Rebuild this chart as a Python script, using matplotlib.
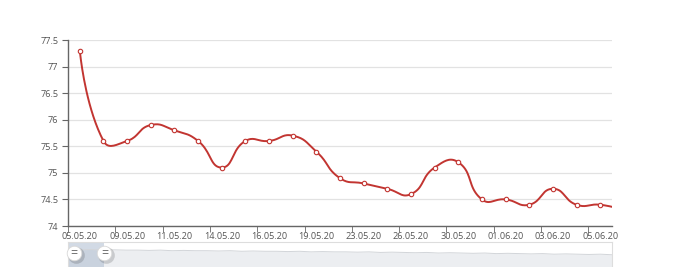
import numpy as np
import matplotlib.pyplot as plt

# category labels (only every other one is shown on the axis)
dates = ['05.05.20', '08.05.20', '09.05.20', '10.05.20', '11.05.20', '13.05.20',
         '14.05.20', '15.05.20', '16.05.20', '18.05.20', '19.05.20', '22.05.20',
         '23.05.20', '25.05.20', '26.05.20', '29.05.20', '30.05.20', '31.05.20',
         '01.06.20', '02.06.20', '03.06.20', '04.06.20', '05.06.20', '06.06.20']
values = [77.3, 75.6, 75.6, 75.9, 75.8, 75.6, 75.1, 75.6, 75.6, 75.7, 75.4, 74.9,
          74.8, 74.7, 74.6, 75.1, 75.2, 74.5, 74.5, 74.4, 74.7, 74.4, 74.4, 74.3]
y_ticks = [74, 74.5, 75, 75.5, 76, 76.5, 77, 77.5]
y_tick_labels = ['74', '74.5', '75', '75.5', '76', '76.5', '77', '77.5']

# overview series shown in the zoom slider
shadow_values = [0.74, 0.73, 0.74, 0.72, 0.73, 0.72, 0.72, 0.71, 0.72, 0.70, 0.71, 0.70,
                 0.70, 0.69, 0.70, 0.68, 0.69, 0.68, 0.68, 0.67, 0.68, 0.66, 0.67, 0.66,
                 0.66, 0.65, 0.66, 0.64, 0.65, 0.64, 0.63, 0.64, 0.62, 0.63, 0.62, 0.61,
                 0.62, 0.60, 0.61, 0.60, 0.59, 0.60, 0.58, 0.59, 0.58, 0.57, 0.58, 0.56]
window_start = 0.011
window_end = 0.067

LINE = '#c23531'
TEXT = '#555555'
FONT = 'Open Sans'

W, H = 680, 267
fig = plt.figure(figsize=(W / 100, H / 100), dpi=100)


def px_box(x0, y0, x1, y1):
    return [x0 / W, 1 - y1 / H, (x1 - x0) / W, (y1 - y0) / H]


ax = fig.add_axes(px_box(68, 40, 612, 226))
ax.set_xlim(-0.5, 22.5)
ax.set_ylim(74, 77.5)

for s in ['top', 'right']:
    ax.spines[s].set_visible(False)
for s in ['left', 'bottom']:
    ax.spines[s].set_color('#666666')
    ax.spines[s].set_linewidth(1)

ax.set_yticks(y_ticks)
ax.set_yticklabels(y_tick_labels)
ax.yaxis.grid(True, color='#e2e2e2', linewidth=0.9)
ax.set_axisbelow(True)

idx = np.arange(len(dates))
ax.set_xticks(idx[::2])
ax.set_xticklabels(dates[::2])
ax.set_xticks(idx[::2] - 0.5, minor=True)
ax.tick_params(axis='x', which='major', length=0, pad=4)
ax.tick_params(axis='x', which='minor', length=4, color='#666666')
ax.tick_params(axis='y', length=4, color='#666666', pad=3)
ax.tick_params(labelsize=6.6, labelcolor=TEXT)
for lab in ax.get_xticklabels() + ax.get_yticklabels():
    lab.set_family(FONT)


# smooth line: bezier control points computed in display space
def smooth_curve(xs, ys, smooth=0.5, n=20):
    pts = ax.transData.transform(np.column_stack([xs, ys]))
    out = [pts[0]]
    cp0 = pts[0]
    for i in range(1, len(pts)):
        p = pts[i]
        prev = pts[i - 1]
        if i + 1 < len(pts):
            nxt = pts[i + 1]
            v = nxt - prev
            l0 = np.hypot(*(p - prev))
            l1 = np.hypot(*(nxt - p))
            r = l1 / (l0 + l1)
            cp1 = p - v * smooth * (1 - r)
        else:
            v = np.zeros(2)
            r = 0.5
            cp1 = p
        t = np.linspace(0, 1, n)[1:, None]
        seg = ((1 - t) ** 3 * prev + 3 * (1 - t) ** 2 * t * cp0
               + 3 * (1 - t) * t ** 2 * cp1 + t ** 3 * p)
        out.extend(seg)
        cp0 = p + v * smooth * r
    out = np.array(out)
    return ax.transData.inverted().transform(out)


curve = smooth_curve(idx, values)
ax.plot(curve[:, 0], curve[:, 1], color=LINE, linewidth=1.4, zorder=3)
ax.plot(idx, values, linestyle='none', marker='o', markersize=3.2,
        markerfacecolor='white', markeredgecolor=LINE, markeredgewidth=0.8, zorder=4)

# data zoom slider
sl = fig.add_axes(px_box(68, 242, 612, 271))
sl.set_xlim(0, 1)
sl.set_ylim(0, 1)
sl.set_xticks([])
sl.set_yticks([])
for s in sl.spines.values():
    s.set_color('#dddddd')
    s.set_linewidth(0.8)

sx = np.linspace(0, 1, len(shadow_values))
sl.fill_between(sx, 0, shadow_values, color='#eceef1', linewidth=0)
sl.plot(sx, shadow_values, color='#d2d5d9', linewidth=0.7)
sl.axvspan(0, window_end, color='#a7b7cc', alpha=0.5, linewidth=0)

for hx in [window_start, window_end]:
    sl.plot(hx + 0.003, 0.55, marker='o', markersize=12, color='#000000',
            alpha=0.15, markeredgewidth=0, clip_on=False, zorder=5)
    sl.plot(hx, 0.62, marker='o', markersize=10.5, markerfacecolor='white',
            markeredgecolor='#d8d8d8', markeredgewidth=0.6, clip_on=False, zorder=6)
    sl.text(hx, 0.6, '=', ha='center', va='center', fontsize=9, color='#666666',
            family=FONT, zorder=7, clip_on=False)

fig.savefig('out.png', dpi=100)
